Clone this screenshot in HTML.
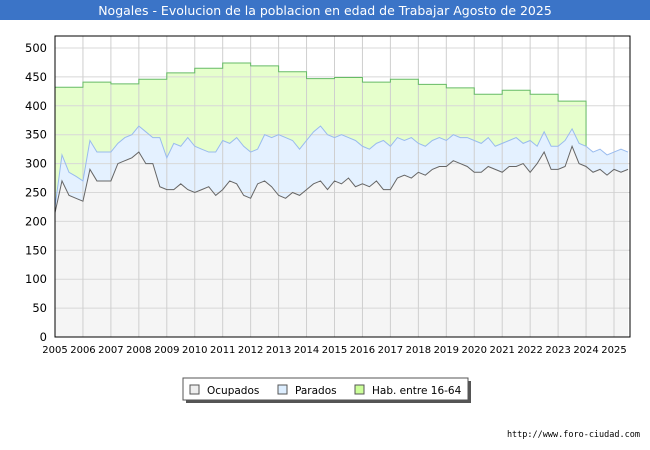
<!DOCTYPE html>
<html><head><meta charset="utf-8"><style>
body{margin:0;width:650px;height:450px;background:#fff;font-family:"DejaVu Sans","Liberation Sans",sans-serif;overflow:hidden}
</style></head><body>
<svg width="650" height="450" style="position:absolute;left:0;top:0;font-family:'DejaVu Sans','Liberation Sans',sans-serif">
<rect x="0" y="0" width="650" height="20" fill="#3b74c7"/>
<text x="325" y="15" text-anchor="middle" font-size="12.5" fill="#fff">Nogales - Evolucion de la poblacion en edad de Trabajar Agosto de 2025</text>
<g id="plot"></g>
<g>
<rect x="186" y="381" width="285" height="22" fill="#555"/>
<rect x="183" y="378" width="285" height="22" fill="#fff" stroke="#555"/>
<rect x="190" y="385" width="9" height="9" fill="#eee" stroke="#555"/>
<text x="207" y="394" font-size="10.5">Ocupados</text>
<rect x="278" y="385" width="9" height="9" fill="#ddeeff" stroke="#555"/>
<text x="295" y="394" font-size="10.5">Parados</text>
<rect x="355" y="385" width="9" height="9" fill="#ccff99" stroke="#555"/>
<text x="372" y="394" font-size="10.5">Hab. entre 16-64</text>
</g>
<text x="640" y="437" text-anchor="end" font-size="8.5" fill="#000" font-family="'DejaVu Sans Mono','Liberation Mono',monospace">http://www.foro-ciudad.com</text>
</svg>
<script>
const years=[2005,2006,2007,2008,2009,2010,2011,2012,2013,2014,2015,2016,2017,2018,2019,2020,2021,2022,2023,2024,2025];
const habValues=[432,441,438,446,457,465,474,469,459,447,449,441,446,437,431,420,427,420,408];
const paradosValues=[225,315,285,278,270,340,320,320,320,335,345,350,365,355,345,345,310,335,330,345,330,325,320,320,340,335,345,330,320,325,350,345,350,345,340,325,340,355,365,350,345,350,345,340,330,325,335,340,330,345,340,345,335,330,340,345,340,350,345,345,340,335,345,330,335,340,345,335,340,330,355,330,330,340,360,335,330,320,325,315,320,325,320];
const ocupadosValues=[215,270,245,240,235,290,270,270,270,300,305,310,320,300,300,260,255,255,265,255,250,255,260,245,255,270,265,245,240,265,270,260,245,240,250,245,255,265,270,255,270,265,275,260,265,260,270,255,255,275,280,275,285,280,290,295,295,305,300,295,285,285,295,290,285,295,295,300,285,300,320,290,290,295,330,300,295,285,290,280,290,285,290];
const yTicks=[0,50,100,150,200,250,300,350,400,450,500];
const X0=55,X1=630,Y0=337,Y500=48;
const px=t=>X0+(t-2005)*(614-55)/20;
const py=v=>Y0-(v/500)*(Y0-Y500);
const tAt=i=>2005+i*0.25;
const ns="http://www.w3.org/2000/svg";
const g=document.getElementById('plot');
function mk(tag,a,name){const e=document.createElementNS(ns,tag);for(const k in a)e.setAttribute(k,a[k]);


g.appendChild(e);return e;}
mk('rect',{x:X0,y:36,width:X1-X0,height:Y0-36,fill:'#fff'},'plot-background');
const lastT=tAt(paradosValues.length-1);
let hp=`M${px(2005)},${py(ocupadosValues[0])}`;
habValues.forEach((v,i)=>{hp+=` L${px(years[i])},${py(v)} L${px(years[i]+1)},${py(v)}`;});
const habEndIdx=habValues.length*4;
hp+=` L${px(tAt(habEndIdx))},${py(paradosValues[habEndIdx])}`;
let pline='';for(let i=habEndIdx;i>=0;i--)pline+=` L${px(tAt(i))},${py(paradosValues[i])}`;
mk('path',{d:hp+pline+' Z',fill:'#e6ffcc'},'hab-area');
let pp=paradosValues.map((v,i)=>`${i?'L':'M'}${px(tAt(i))},${py(v)}`).join(' ');
let op=ocupadosValues.map((v,i)=>`${i?'L':'M'}${px(tAt(i))},${py(v)}`).join(' ');
mk('path',{d:pp+` L${px(lastT)},${py(0)} L${X0},${py(0)} Z`,fill:'#e4f1ff'},'parados-area');
mk('path',{d:op+` L${px(lastT)},${py(0)} L${X0},${py(0)} Z`,fill:'#f5f5f5'},'ocupados-area');
yTicks.forEach(v=>{mk('line',{x1:X0,x2:X1,y1:py(v),y2:py(v),stroke:'#d8d8d8'},'h-grid-'+v);
const t=mk('text',{x:47,y:py(v)+4,'text-anchor':'end','font-size':11.5},'y-tick-'+v);t.textContent=v;});
years.forEach(y=>{mk('line',{x1:px(y),x2:px(y),y1:36,y2:Y0,stroke:'#cfcfcf'},'v-grid-'+y);
const t=mk('text',{x:px(y),y:353,'text-anchor':'middle','font-size':10},'x-tick-'+y);t.textContent=y;});
let hl=`M${px(2005)},${py(ocupadosValues[0])}`;
habValues.forEach((v,i)=>{hl+=` L${px(years[i])},${py(v)} L${px(years[i]+1)},${py(v)}`;});
hl+=` L${px(tAt(habEndIdx))},${py(paradosValues[habEndIdx])}`;
mk('path',{d:hl,fill:'none',stroke:'#66bb66','stroke-width':1},'hab-line');
mk('path',{d:pp,fill:'none',stroke:'#99bbee','stroke-width':1},'parados-line');
mk('path',{d:op,fill:'none',stroke:'#666','stroke-width':1},'ocupados-line');
mk('rect',{x:X0,y:36,width:X1-X0,height:Y0-36,fill:'none',stroke:'#000'},'plot-frame');
</script>
</body></html>
